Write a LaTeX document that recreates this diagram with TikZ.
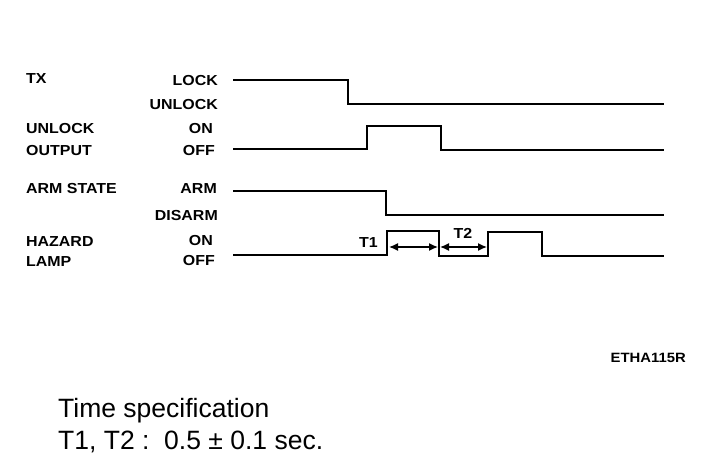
\documentclass[tikz,border=0pt]{standalone}
\usepackage{fontspec}
\setmainfont{Liberation Sans}
\newfontfamily\heavy[FakeStretch=1.1]{Liberation Sans Bold}
\usetikzlibrary{arrows.meta}

\begin{document}
\begin{tikzpicture}[x=1pt, y=-1pt,
  sig/.style={line width=2.2pt, line join=miter},
  signame/.style={font=\heavy\fontsize{14.5}{14.5}\selectfont, anchor=west, inner sep=0pt},
  level/.style={font=\heavy\fontsize{14.5}{14.5}\selectfont, anchor=east, inner sep=0pt},
  span/.style={{Latex[length=9pt,width=8pt]}-{Latex[length=9pt,width=8pt]}, line width=1.4pt},
  spec/.style={font=\fontsize{26.5}{26.5}\selectfont, anchor=west, inner sep=0pt}
]
  \useasboundingbox (0,0) rectangle (704,470);

  % signal names
  \node[signame] (tx) at (26,79) {TX};
  \node[signame] (unlk) at (26,129) {UNLOCK};
  \node[signame] (outp) at (26,151) {OUTPUT};
  \node[signame] (arm) at (26,189) {ARM STATE};
  \node[signame] (haz) at (26,242) {HAZARD};
  \node[signame] (lamp) at (26,262) {LAMP};

  % levels
  \node[level] (lock) at (218,81) {LOCK};
  \node[level] (unlock) at (218,105) {UNLOCK};
  \node[level] (on1) at (213,129) {ON};
  \node[level] (off1) at (215,151) {OFF};
  \node[level] (armd) at (217,189) {ARM};
  \node[level] (disarm) at (218,216) {DISARM};
  \node[level] (on2) at (213,241) {ON};
  \node[level] (off2) at (215,261) {OFF};

  % waveforms
  \draw[sig] (233,80) -- (348,80) -- (348,104) -- (664,104);
  \draw[sig] (233,149) -- (367,149) -- (367,126) -- (441,126) -- (441,150) -- (664,150);
  \draw[sig] (233,191) -- (386,191) -- (386,215) -- (664,215);
  \draw[sig] (233,255) -- (387,255) -- (387,231) -- (439,231) -- (439,256)
    -- (488,256) -- (488,232) -- (542,232) -- (542,256) -- (664,256);

  % timing marks
  \coordinate (t1a) at (389,247);
  \coordinate (t1b) at (438,247);
  \coordinate (t2a) at (440,247);
  \coordinate (t2b) at (487,247);
  \draw[span] (t1a) -- (t1b);
  \draw[span] (t2a) -- (t2b);
  \node[level] (t1) at (378,243) {T1};
  \node[font=\heavy\fontsize{14.5}{14.5}\selectfont, inner sep=0pt] (t2) at (463,233) {T2};

  \node[level, font=\heavy\fontsize{13.5}{13.5}\selectfont] (fig) at (686,358) {ETHA115R};

  % specification
  \node[spec] (spec1) at (58,411) {Time specification};
  \node[spec] (spec2) at (58,442) {T1, T2 :\ \ 0.5 ± 0.1 sec.};
\end{tikzpicture}
\end{document}
